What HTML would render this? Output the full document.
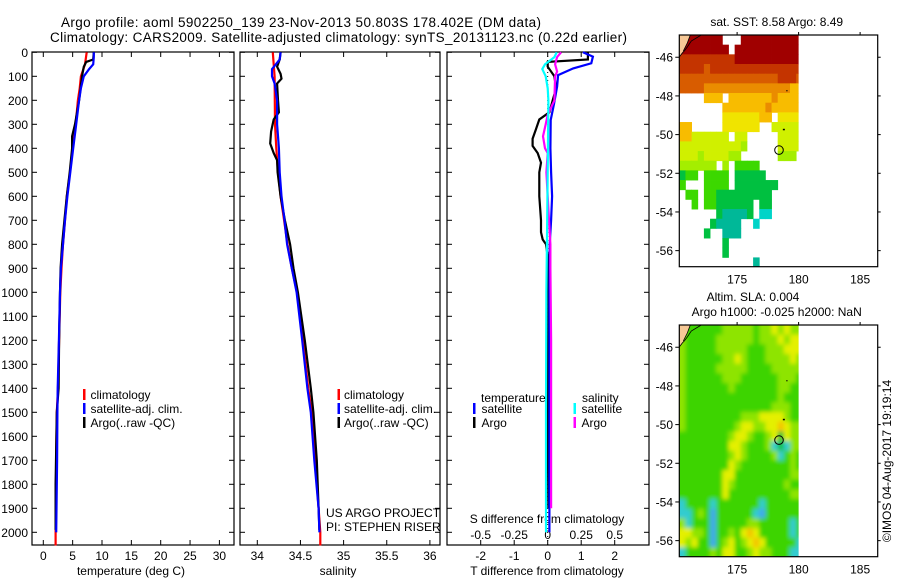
<!DOCTYPE html>
<html><head><meta charset="utf-8"><title>Argo profile</title>
<style>
html,body{margin:0;padding:0;background:#fff;}
svg{display:block;font-family:"Liberation Sans",sans-serif;}
text{fill:#000;}
</style></head>
<body>
<svg id="chart" width="900" height="580" viewBox="0 0 900 580" xmlns="http://www.w3.org/2000/svg">
<defs><filter id="soft" x="-5%" y="-5%" width="110%" height="110%"><feGaussianBlur stdDeviation="2.2"/></filter></defs>
<rect x="0" y="0" width="900" height="580" fill="#fff"/>
<text x="61" y="27" font-size="13.5" textLength="480">Argo profile: aoml 5902250_139 23-Nov-2013 50.803S 178.402E (DM data)</text>
<text x="50" y="42" font-size="13.5" textLength="577">Climatology: CARS2009. Satellite-adjusted climatology: synTS_20131123.nc (0.22d earlier)</text>
<g id="g"></g>
</svg>
<script>
// ---------- profile data ----------
const tClimDepth = [0,50,100,150,200,250,300,400,500,600,700,800,900,1000,1200,1400,1500,1700,2000,2055];
const tClimVal   = [7.4,7.1,6.4,6.2,5.9,5.7,5.5,5.0,4.55,4.0,3.7,3.35,3.1,2.9,2.7,2.5,2.3,2.2,2.1,2.1];
const tSatDepth  = [0,20,50,70,100,150,200,300,400,500,600,700,800,900,1000,1200,1400,1500,1700,2000];
const tSatVal    = [8.6,8.6,8.5,7.8,6.9,6.4,6.1,5.6,5.1,4.6,4.1,3.7,3.35,3.0,2.85,2.65,2.45,2.4,2.35,2.2];
const tArgoDepth = [0,30,40,60,100,200,300,350,400,500,600,700,800,900,1000,1200,1400,1500,1800,1900,1990];
const tArgoVal   = [8.6,8.5,7.3,6.9,6.6,6.1,5.4,4.9,4.9,4.5,4.0,3.6,3.2,2.95,2.85,2.7,2.6,2.3,2.1,2.1,2.1];

const sClimDepth = [0,100,300,400,500,600,700,800,900,1000,1200,1400,1500,1700,1900,2000,2055];
const sClimVal   = [34.18,34.20,34.205,34.22,34.24,34.27,34.31,34.35,34.40,34.46,34.53,34.59,34.63,34.67,34.71,34.73,34.73];
const sSatDepth  = [0,30,70,100,130,200,300,400,500,600,700,800,900,1000,1200,1400,1500,1700,1900,2000];
const sSatVal    = [34.27,34.26,34.17,34.17,34.20,34.23,34.23,34.25,34.26,34.28,34.315,34.345,34.40,34.455,34.52,34.58,34.62,34.66,34.71,34.72];
const sArgoDepth = [0,30,60,90,110,130,200,250,280,330,380,420,450,500,600,700,800,900,1000,1200,1400,1500,1600,1700,1800,1900,1990];
const sArgoVal   = [34.27,34.26,34.23,34.27,34.28,34.23,34.24,34.25,34.19,34.16,34.15,34.19,34.23,34.235,34.27,34.32,34.38,34.42,34.47,34.55,34.62,34.65,34.67,34.69,34.70,34.71,34.72];

const dTSatDepth  = [0,18,46,67,95,143,213,282,400,500,600,700,800,1000,1500,2000];
const dTSatVal    = [1.05,1.35,1.3,0.76,0.31,0.28,0.19,0.09,0.08,0.1,0.13,0.1,0.06,0.05,0.05,0.05];
const dTArgoDepth = [0,30,40,60,100,150,200,250,280,320,360,390,420,460,500,600,700,750,780,800,850,1000,1500,1900];
const dTArgoVal   = [1.2,1.2,0.0,0.0,0.2,0.25,0.15,0.05,-0.25,-0.35,-0.45,-0.45,-0.3,-0.2,-0.25,-0.25,-0.2,-0.2,-0.15,-0.05,0.0,0.02,0.0,0.02];
const dSSatDepth  = [0,20,50,70,100,150,200,500,1000,1500,2000];
const dSSatVal    = [0.067,0.05,-0.02,-0.04,-0.015,0.0,0.005,0.0,-0.01,-0.013,-0.013];
const dSArgoDepth = [0,20,50,80,100,200,260,300,350,400,420,500,600,700,800,900,1200,1500,1900];
const dSArgoVal   = [0.10,0.07,0.055,0.07,0.055,0.05,0.0,-0.015,-0.035,-0.02,0.0,-0.01,0.0,0.01,0.02,0.02,0.025,0.025,0.025];

const depthTicks = [0,100,200,300,400,500,600,700,800,900,1000,1100,1200,1300,1400,1500,1600,1700,1800,1900,2000];
const tempTicks = [0,5,10,15,20,25,30];
const salTicks = [34,34.5,35,35.5,36];
const salTickLabels = ["34","34.5","35","35.5","36"];
const dTTicks = [-2,-1,0,1,2];
const dSTicks = [-0.5,-0.25,0,0.25,0.5];
const dSTickLabels = ["-0.5","-0.25","0","0.25","0.5"];

// ---------- map data ----------
const sstRows = [
"9999999...9999999999",
"99999999.99999999999",
"88888888899999999999",
"88887888888888888888",
"77777777777777778887",
"77776666666666666655",
"....555.555555565555",
".......5555555655555",
".......44444455.4444",
"55.....444444..33333",
"55333333.33.....3333",
"33333333332.....3333",
"3332333322......222.",
"222222.2.1111.......",
"011.1111.00000......",
"1...1111.0000000....",
".11.11000000000.....",
"..1.11000000.00.....",
"......0cccc0.dd.....",
".....0cccc..d.......",
"....0..ccc..........",
".......0............",
".......0............",
"............c......."];
const slaRows = [
"lgggggglllllgllylyll",
"lgggggllllllglllylyy",
"lggggglllllggglllyyy",
"lggggggllylgggllllyl",
"lggggglllllgggglllll",
"lgggggglllgggggglllg",
"lggggggglgggggggllgg",
"lggggggggggggggglggg",
"lgggggggggggggglllgg",
"lggggggggglllyyyylgg",
"lgggggggglyyllyyoyll",
"gggggggglyylgglyGyll",
"ggggggggyylggglcGcll",
"gggggggglylgggglcglg",
"ggggggggylgggggggglg",
"gggggggyygggggggggll",
"gggggggylgggggggglgg",
"gggggggyggggggggggll",
"cggggcgggggggcgggggg",
"ccglgbggggggcbgggggg",
"lcgggbgggggllgggggcg",
"yyllgbgglgyoygggggcg",
"ylyggbglyglyoygggggc",
"cgggglgyygglyllgggcc"];
const latTicks = [-46,-48,-50,-52,-54,-56];
const lonTicks = [175,180,185];
const argoLon = 178.402, argoLat = -50.803;

const sstColors = {"9":"#a00000","8":"#c43400","7":"#d85c00","6":"#ea8c00","5":"#f8bc00","4":"#f0e400","3":"#d0f000","2":"#a4ee00","1":"#3cd800","0":"#00c040","c":"#00b898","d":"#00d4c8"};
const slaColors = {"g":"#3cd400","G":"#18c038","l":"#8ee400","y":"#e4f000","o":"#f4c400","c":"#30ccd0","b":"#40a8ee"};

// ---------- helpers ----------
const NS="http://www.w3.org/2000/svg";
const root=document.getElementById('g');
function mk(tag,attrs,parent){const e=document.createElementNS(NS,tag);for(const k in attrs)e.setAttribute(k,attrs[k]);(parent||root).appendChild(e);return e;}
function txt(x,y,s,size,anchor,parent){const t=mk('text',{x:x,y:y,'font-size':size,'text-anchor':anchor||'start'},parent);t.textContent=s;return t;}

const Y0=52.3, YS=0.24;
function yD(d){return Y0+d*YS;}
const xT=t=>43.3+5.87*t;
const xS=s=>257.3+86.3*(s-34);
const xDT=t=>547.7+33.5*t;
const xDS=s=>547.7+134*s;

const panels=[{x0:32,x1:234,name:'temperature-panel'},{x0:240,x1:440,name:'salinity-panel'},{x0:447,x1:649,name:'difference-panel'}];
const PTOP=52, PBOT=545;

panels.forEach(p=>{
  const r=mk('rect',{x:p.x0,y:PTOP,width:p.x1-p.x0,height:PBOT-PTOP,fill:'none',stroke:'#000','stroke-width':1.2});
  
  
  depthTicks.forEach(d=>{
    mk('line',{x1:p.x0,x2:p.x0+5,y1:yD(d),y2:yD(d),stroke:'#000'});
    mk('line',{x1:p.x1-5,x2:p.x1,y1:yD(d),y2:yD(d),stroke:'#000'});
  });
});
depthTicks.forEach(d=>{
  const t=txt(28,yD(d)+4.5,String(d),12,'end');
  
  
});
tempTicks.forEach(v=>{
  mk('line',{x1:xT(v),x2:xT(v),y1:PTOP,y2:PTOP+5,stroke:'#000'});
  mk('line',{x1:xT(v),x2:xT(v),y1:PBOT-5,y2:PBOT,stroke:'#000'});
  const t=txt(xT(v),560,String(v),12,'middle');
  
  
});
let at=txt(131,575,'temperature (deg C)',12,'middle');


salTicks.forEach((v,i)=>{
  mk('line',{x1:xS(v),x2:xS(v),y1:PTOP,y2:PTOP+5,stroke:'#000'});
  mk('line',{x1:xS(v),x2:xS(v),y1:PBOT-5,y2:PBOT,stroke:'#000'});
  const t=txt(xS(v),560,salTickLabels[i],12,'middle');
  
  
});
at=txt(338,575,'salinity',12,'middle');


dTTicks.forEach(v=>{
  mk('line',{x1:xDT(v),x2:xDT(v),y1:PTOP,y2:PTOP+5,stroke:'#000'});
  mk('line',{x1:xDT(v),x2:xDT(v),y1:PBOT-5,y2:PBOT,stroke:'#000'});
  const t=txt(xDT(v),560,String(v),12,'middle');
  
  
});
at=txt(547,575,'T difference from climatology',12,'middle');


dSTicks.forEach((v,i)=>{
  const t=txt(xDS(v),539,dSTickLabels[i],12,'middle');
  
  
});
at=txt(547,523,'S difference from climatology',12,'middle');


const zl=mk('line',{x1:xDT(0),x2:xDT(0),y1:PTOP,y2:PBOT,stroke:'#000','stroke-dasharray':'1,3'});



function series(depths,vals,xf,color,name){
  const pts=depths.map((d,i)=>xf(vals[i]).toFixed(1)+','+yD(d).toFixed(1)).join(' ');
  const l=mk('polyline',{points:pts,fill:'none',stroke:color,'stroke-width':2.2,'stroke-linejoin':'miter'});
  
  
}
series(tClimDepth,tClimVal,xT,'#ff0000','temperature-climatology-line');
series(tArgoDepth,tArgoVal,xT,'#000000','temperature-argo-line');
series(tSatDepth,tSatVal,xT,'#0000ff','temperature-satellite-line');
series(sClimDepth,sClimVal,xS,'#ff0000','salinity-climatology-line');
series(sArgoDepth,sArgoVal,xS,'#000000','salinity-argo-line');
series(sSatDepth,sSatVal,xS,'#0000ff','salinity-satellite-line');
series(dTArgoDepth,dTArgoVal,xDT,'#000000','t-diff-argo-line');
series(dTSatDepth,dTSatVal,xDT,'#0000ff','t-diff-satellite-line');
series(dSArgoDepth,dSArgoVal,xDS,'#ff00ff','s-diff-argo-line');
series(dSSatDepth,dSSatVal,xDS,'#00ffff','s-diff-satellite-line');

function legendEntry(bx,tx,y,color,label){
  const b=mk('rect',{x:bx,y:y-9,width:2.5,height:11,fill:color});
  
  
  const t=txt(tx,y+1,label,12,'start');
  
  
}
[[83,90.5],[337.5,344]].forEach(([bx,tx])=>{
  legendEntry(bx,tx,398,'#ff0000','climatology');
  legendEntry(bx,tx,412,'#0000ff','satellite-adj. clim.');
  legendEntry(bx,tx,426,'#000000','Argo(..raw -QC)');
});
at=txt(481,402,'temperature',12,'start');


at=txt(582,402,'salinity',12,'start');


legendEntry(473,481.5,412,'#0000ff','satellite');
legendEntry(473,481.5,426,'#000000','Argo');
legendEntry(573.5,581.5,412,'#00ffff','satellite');
legendEntry(573.5,581.5,426,'#ff00ff','Argo');
at=txt(326,517,'US ARGO PROJECT',12,'start');


at=txt(326,531,'PI: STEPHEN RISER',12,'start');



// ---------- maps ----------
const MX0=679.3, MX1=877.7, LON0=170.3, LONS=12.3, LATS=19.34, LAT0=-44.85;
function drawMap(top,rows,colors,name,smooth){
  const bot=top+231.7;
  const lx=lon=>MX0+(lon-LON0)*LONS;
  const ly=lat=>top+(LAT0-lat)*LATS;
  const g=mk('g',{});
  
  
  const clipId=name+'-clip';
  const cp=mk('clipPath',{id:clipId},g);
  mk('rect',{x:MX0,y:top,width:lx(180)-MX0,height:bot-top},cp);
  const outer=mk('g',{'clip-path':'url(#'+clipId+')'},g);
  const cells=mk('g',smooth?{filter:'url(#soft)'}:{},outer);
  rows.forEach((row,r)=>{
    for(let c=0;c<row.length;c++){
      const col=colors[row[c]];
      if(!col) continue;
      let x=lx(LON0+c*0.5), y=ly(LAT0-r*0.5), w=0.5*LONS+0.4, h=0.5*LATS+0.4;
      if(smooth){ if(c===0){x-=8;w+=8;} if(r===0){y-=8;h+=8;} if(r===rows.length-1){h+=8;} if(c===row.length-1){w+=8;} }
      const cell=mk('rect',{x:x.toFixed(2),y:y.toFixed(2),width:w.toFixed(2),height:h.toFixed(2),fill:col},cells);
      
      
    }
  });
  const land=mk('polygon',{points:`${MX0},${top} ${MX0+11},${top} ${MX0+8},${top+8} ${MX0+4},${top+16} ${MX0},${top+22}`,fill:'#f6c896'},g);
  
  
  mk('polyline',{points:`${MX0+22},${top} ${MX0+12},${top+6} ${MX0+8},${top+12} ${MX0+5},${top+16} ${MX0+3},${top+18} ${MX0},${top+22}`,fill:'none',stroke:'#000','stroke-width':0.8},g);
  mk('polyline',{points:`${MX0+11},${top} ${MX0+8},${top+8} ${MX0+4},${top+16}`,fill:'none',stroke:'#000','stroke-width':0.8},g);
  mk('rect',{x:lx(179),y:ly(-47.7),width:1.2,height:1.2,fill:'#000'},g);
  mk('rect',{x:lx(178.8)-1,y:ly(-49.7),width:2,height:1.5,fill:'#000'},g);
  const fr=mk('rect',{x:MX0,y:top,width:MX1-MX0,height:bot-top,fill:'none',stroke:'#000','stroke-width':1.2},g);
  
  
  latTicks.forEach(v=>{
    mk('line',{x1:MX0-4,x2:MX0,y1:ly(v),y2:ly(v),stroke:'#000'},g);
    mk('line',{x1:MX1,x2:MX1+3,y1:ly(v),y2:ly(v),stroke:'#000'},g);
    const t=txt(673,ly(v)+4.5,String(v),12,'end',g);
    
    
  });
  lonTicks.forEach(v=>{
    mk('line',{x1:lx(v),x2:lx(v),y1:top-3,y2:top,stroke:'#000'},g);
    const t=txt(lx(v),bot+17,String(v),12,'middle',g);
    
    
  });
  const cx=lx(argoLon), cy=ly(argoLat);
  const circ=mk('circle',{cx:cx.toFixed(1),cy:cy.toFixed(1),r:4.3,fill:'none',stroke:'#000','stroke-width':1},g);
  
  
}
drawMap(35,sstRows,sstColors,'sst-map',false);
drawMap(325,slaRows,slaColors,'sla-map',true);

at=txt(776.7,26,'sat. SST: 8.58 Argo: 8.49',12,'middle');


at=txt(753,301,'Altim. SLA: 0.004',12,'middle');


at=txt(776.7,316,'Argo h1000: -0.025 h2000: NaN',12,'middle');


at=txt(0,0,'\u00A9IMOS 04-Aug-2017 19:19:14',12,'middle');
at.setAttribute('transform','translate(891,461) rotate(-90)');


</script>
</body></html>
